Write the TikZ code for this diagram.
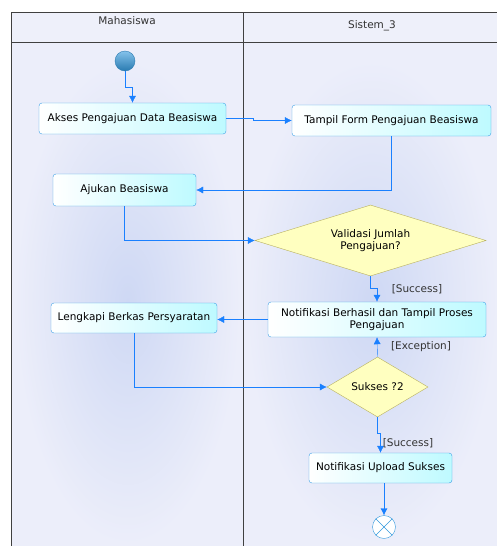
\documentclass[tikz,border=0pt]{standalone}
\usepackage{fontspec}
\setmainfont{DejaVu Sans}
\usetikzlibrary{arrows.meta,shapes.geometric}

\definecolor{flowblue}{RGB}{26,128,255}
\definecolor{boxline}{RGB}{60,160,230}
\definecolor{boxcyan}{RGB}{190,250,255}
\definecolor{decfill}{RGB}{255,255,192}
\definecolor{decline}{RGB}{184,176,96}
\definecolor{lanebg}{RGB}{236,238,250}
\definecolor{lanemid}{RGB}{206,216,244}
\definecolor{headbg}{RGB}{238,240,250}
\definecolor{frameline}{RGB}{64,64,64}
\definecolor{endline}{RGB}{51,153,221}

\tikzset{
    actbox/.style={draw=boxline, rounded corners=3pt, left color=white, right color=boxcyan,
        font=\fontsize{10.5}{12.5}\selectfont, align=center, inner sep=0pt},
    decbox/.style={diamond, draw=decline, fill=decfill, inner sep=0pt,
        font=\fontsize{10.5}{12.5}\selectfont, align=center},
    flow/.style={draw=flowblue, -{Latex[length=7pt,width=7pt]}},
    guard/.style={font=\fontsize{10.5}{12.5}\selectfont, text=black!80},
    lanetitle/.style={font=\fontsize{10.5}{12.5}\selectfont, text=black!80}
}

\begin{document}
\begin{tikzpicture}[x=1pt,y=-1pt]
        \useasboundingbox (0,0) rectangle (497,546);

        % lanes
        \fill[white] (0,0) rectangle (497,546);
        \fill[lanebg] (11,42) rectangle (497,546);
        \shade[inner color=lanemid, outer color=lanebg] (15,60) rectangle (240,545);
        \shade[inner color=lanemid, outer color=lanebg] (246,60) rectangle (497,545);
        \fill[headbg] (11,12) rectangle (497,42);
        \draw[frameline] (497,12) -- (11,12) -- (11,546);
        \draw[frameline] (11,42) -- (497,42);
        \draw[frameline] (243,12) -- (243,546);
        \node[lanetitle] (lane1) at (127,21) {Mahasiswa};
        \node[lanetitle] (lane2) at (372,26) {Sistem\_3};

        % activities
        \node[circle, draw=endline!80!black, top color=endline!60!white, bottom color=endline!80!black,
            minimum size=20pt, inner sep=0pt] (start) at (125,61) {};
        \node[actbox, minimum width=187pt, minimum height=31pt] (akses) at (132.5,118.5) {Akses Pengajuan Data Beasiswa};
        \node[actbox, minimum width=199pt, minimum height=31pt] (tampil) at (391.5,120.5) {Tampil Form Pengajuan Beasiswa};
        \node[actbox, minimum width=143pt, minimum height=32pt] (ajukan) at (124.5,190) {Ajukan Beasiswa};
        \node[decbox, aspect=3.25, minimum width=231pt, minimum height=71pt] (valid) at (370.5,240.5) {Validasi Jumlah\\Pengajuan?};
        \node[actbox, minimum width=218pt, minimum height=35pt] (notif) at (377,319.5) {Notifikasi Berhasil dan Tampil Proses\\Pengajuan};
        \node[actbox, minimum width=166pt, minimum height=30pt] (lengkapi) at (134,318) {Lengkapi Berkas Persyaratan};
        \node[decbox, aspect=1.7, minimum width=101pt, minimum height=60pt] (sukses) at (377.5,387) {Sukses ?2};
        \node[actbox, minimum width=143pt, minimum height=30pt] (upload) at (380.5,468) {Notifikasi Upload Sukses};
        \node[circle, draw=endline, fill=white, minimum size=23pt, inner sep=0pt] (end) at (384,527) {};
        \draw[endline] (end.north west) -- (end.south east);
        \draw[endline] (end.north east) -- (end.south west);

        % flows
        \draw[flow] (start.south) -- ++(0,16) -| (akses.north);
        \draw[flow] (akses.east) -- ++(27,0) |- (tampil.west);
        \draw[flow] (tampil.south) |- (ajukan.east);
        \draw[flow] (ajukan.south) |- (valid.west);
        \draw[flow] (valid.south) -- ++(0,12) -| (notif.north);
        \draw[flow] (notif.west) -- (notif.west -| lengkapi.east);
        \draw[flow] (lengkapi.south) |- (sukses.west);
        \draw[flow] (sukses.north) -- (notif.south);
        \draw[flow] (sukses.south) -- ++(0,16) -| (upload.north);
        \draw[flow] (upload.south -| end.north) -- (end.north);

        \node[guard] (g1) at (417,289) {[Success]};
        \node[guard] (g2) at (421,347) {[Exception]};
        \node[guard] (g3) at (408,443) {[Success]};
    \end{tikzpicture}
\end{document}
